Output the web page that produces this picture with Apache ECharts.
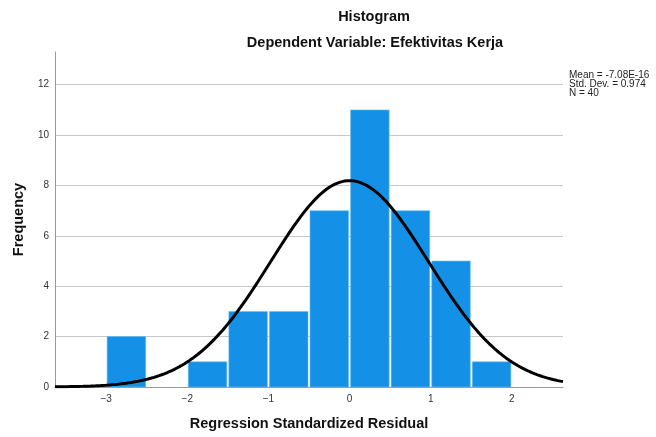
<!DOCTYPE html>
<html lang="en">
<head>
    <meta charset="UTF-8">
    <title>Histogram</title>
    <script src="https://cdn.jsdelivr.net/npm/echarts@6.0.0/dist/echarts.min.js"></script>
    <style>
        html, body { margin: 0; padding: 0; background: #fff; }
        #chart { width: 656px; height: 437px; }
    </style>
</head>
<body>
<div id="chart"></div>

<script>
    // histogram bins (lower edge, upper edge) and counts
    var binStart = [-3, -2.5, -2, -1.5, -1, -0.5, 0, 0.5, 1, 1.5];
    var binEnd   = [-2.5, -2, -1.5, -1, -0.5, 0, 0.5, 1, 1.5, 2];
    var counts   = [2, 0, 1, 3, 3, 7, 11, 7, 5, 1];

    // stats shown in the legend box
    var mean = -7.08e-16;
    var stdDev = 0.974;
    var n = 40;
    var binWidth = 0.5;
    var statLines = ['Mean = -7.08E-16', 'Std. Dev. = 0.974', 'N = 40'];

    var xMin = -3.63, xMax = 2.63;
    var yMin = 0, yMax = 13.3;

    var bars = [];
    for (var i = 0; i < counts.length; i++) {
        if (counts[i] > 0) bars.push([binStart[i], binEnd[i], counts[i]]);
    }

    // normal curve scaled to the histogram, from the stats above
    var curve = [];
    var steps = 200;
    for (var k = 0; k <= steps; k++) {
        var x = xMin + (xMax - xMin) * k / steps;
        var z = (x - mean) / stdDev;
        var y = n * binWidth * Math.exp(-0.5 * z * z) / (stdDev * Math.sqrt(2 * Math.PI));
        curve.push([x, y]);
    }

    var chart = echarts.init(document.getElementById('chart'));
    var labelFont = '"Liberation Sans", Arial, sans-serif';

    var option = {
        animation: false,
        backgroundColor: '#fff',
        title: [
            {
                text: 'Histogram',
                left: 369, top: 4, textAlign: 'center',
                textStyle: { fontFamily: labelFont, fontSize: 14.5, fontWeight: 'bold', color: '#111' }
            },
            {
                text: 'Dependent Variable: Efektivitas Kerja',
                left: 370, top: 30, textAlign: 'center',
                textStyle: { fontFamily: labelFont, fontSize: 14.5, fontWeight: 'bold', color: '#111' }
            }
        ],
        graphic: [
            {
                type: 'text',
                left: 569, top: 70,
                style: {
                    text: statLines.join('\n'),
                    font: '10px ' + labelFont,
                    fill: '#222',
                    lineHeight: 9.3
                }
            }
        ],
        grid: { left: 55, right: 93, top: 52, bottom: 50 },
        xAxis: {
            type: 'value',
            min: xMin, max: xMax,
            minInterval: 1, maxInterval: 1,
            name: 'Regression Standardized Residual',
            nameLocation: 'middle',
            nameGap: 29,
            nameTextStyle: { fontFamily: labelFont, fontSize: 14.5, fontWeight: 'bold', color: '#111' },
            axisLine: { show: true, onZero: false, lineStyle: { color: '#999', width: 1 } },
            axisTick: { show: false },
            splitLine: { show: false },
            axisLabel: {
                showMinLabel: false, showMaxLabel: false,
                fontFamily: labelFont, fontSize: 10, color: '#333', margin: 7,
                formatter: function (v) { return String(v).replace('-', '\u2212'); }
            }
        },
        yAxis: {
            type: 'value',
            min: yMin, max: yMax, interval: 2,
            name: 'Frequency',
            nameLocation: 'middle',
            nameGap: 29,
            nameTextStyle: { fontFamily: labelFont, fontSize: 14.5, fontWeight: 'bold', color: '#111' },
            axisLine: { show: true, onZero: false, lineStyle: { color: '#999', width: 1 } },
            axisTick: { show: false },
            splitLine: { show: true, showMinLine: false, showMaxLine: false, lineStyle: { color: '#c8c8c8', width: 1 } },
            axisLabel: {
                showMaxLabel: false,
                fontFamily: labelFont, fontSize: 10, color: '#333', margin: 6
            }
        },
        series: [
            {
                type: 'custom',
                data: bars,
                encode: { x: [0, 1], y: 2 },
                renderItem: function (params, api) {
                    var p0 = api.coord([api.value(0), api.value(2)]);
                    var p1 = api.coord([api.value(1), 0]);
                    return {
                        type: 'rect',
                        shape: { x: p0[0] + 1, y: p0[1], width: p1[0] - p0[0] - 2, height: p1[1] - p0[1] },
                        style: { fill: '#1490e6', stroke: '#6cbcf2', lineWidth: 0.6 }
                    };
                },
                z: 2
            },
            {
                type: 'line',
                data: curve,
                showSymbol: false,
                smooth: false,
                lineStyle: { color: '#000', width: 3 },
                z: 3
            }
        ]
    };

    option && chart.setOption(option);
</script>
</body>
</html>
